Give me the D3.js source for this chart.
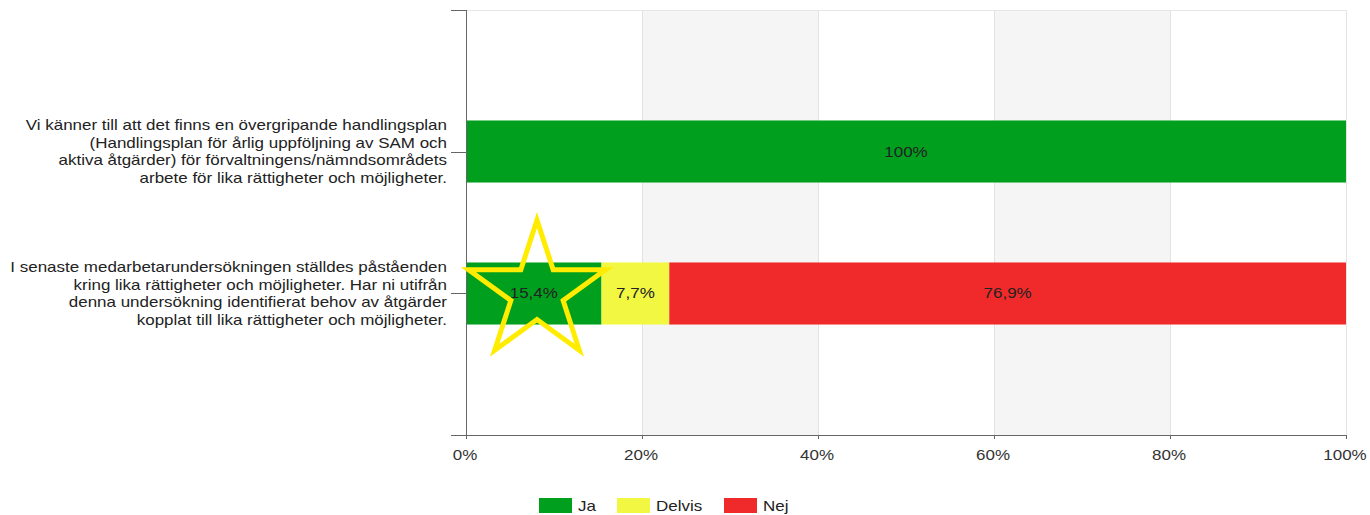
<!DOCTYPE html>
<html>
<head>
<meta charset="utf-8">
<script src="https://cdn.jsdelivr.net/npm/d3@7"></script>
<style>
  body { margin: 0; background: #fff; }
  svg text { font-family: "Liberation Sans", Arial, sans-serif; }
</style>
</head>
<body>
<svg id="chart" width="1370" height="515"></svg>
<script>
'use strict';

// data
const questions = [
  ["Vi känner till att det finns en övergripande handlingsplan",
   "(Handlingsplan för årlig uppföljning av SAM och",
   "aktiva åtgärder) för förvaltningens/nämndsområdets",
   "arbete för lika rättigheter och möjligheter."],
  ["I senaste medarbetarundersökningen ställdes påståenden",
   "kring lika rättigheter och möjligheter. Har ni utifrån",
   "denna undersökning identifierat behov av åtgärder",
   "kopplat till lika rättigheter och möjligheter."]
];
const answers = ["Ja", "Delvis", "Nej"];
const jaValues = [100, 15.4];
const delvisValues = [0, 7.7];
const nejValues = [0, 76.9];
const xTicks = [0, 20, 40, 60, 80, 100];
const colors = ["#00a01e", "#f2f742", "#f02a2a"];

const svg = d3.select("#chart");
const pLeft = 466, pRight = 1346, pTop = 10, pBottom = 435;
const stretch = 1.213; // the reference text is horizontally wider

// places a text at (px,py) stretched horizontally
function place(sel, px, py) {
  return sel.attr("transform", "translate(" + px + "," + py + ") scale(" + stretch + ",1)");
}

const x = d3.scaleLinear().domain([0, 100]).range([pLeft, pRight]);
const y = d3.scaleBand()
  .domain(d3.range(questions.length))
  .range([pTop, pBottom])
  .paddingInner(0.563)
  .paddingOuter(0.778);

// alternating bands
svg.selectAll("rect.band")
  .data([[20, 40], [60, 80]])
  .enter().append("rect")
    .attr("class", "band")
    .attr("x", d => x(d[0]))
    .attr("y", pTop)
    .attr("width", d => x(d[1]) - x(d[0]))
    .attr("height", pBottom - pTop)
    .style("fill", "#f5f5f5");

// grid lines
svg.selectAll("line.grid")
  .data(xTicks.slice(1))
  .enter().append("line")
    .attr("class", "grid")
    .attr("x1", d => x(d) + 0.5).attr("x2", d => x(d) + 0.5)
    .attr("y1", pTop).attr("y2", pBottom)
    .style("stroke", "#e3e3e3");

svg.append("line")
  .attr("x1", pLeft).attr("x2", pRight)
  .attr("y1", pTop + 0.5).attr("y2", pTop + 0.5)
  .style("stroke", "#e6e6e6");

// stacked bars
const series = d3.stack().keys([0, 1, 2])
  .value((d, k) => [jaValues, delvisValues, nejValues][k][d])(d3.range(questions.length));

const fmt = v => (Math.round(v * 10) / 10).toString().replace(".", ",") + "%";

series.forEach((s, k) => {
  const g = svg.append("g");
  g.selectAll("rect")
    .data(s.filter(d => d[1] - d[0] > 0))
    .enter().append("rect")
      .attr("x", d => x(d[0]))
      .attr("y", d => y(d.data))
      .attr("width", d => x(d[1]) - x(d[0]))
      .attr("height", y.bandwidth())
      .style("fill", colors[k]);
  g.selectAll("text")
    .data(s.filter(d => d[1] - d[0] > 0))
    .enter().append("text")
      .each(function(d) {
        place(d3.select(this), (x(d[0]) + x(d[1])) / 2, y(d.data) + y.bandwidth() / 2 + 5);
      })
      .attr("text-anchor", "middle")
      .style("font-size", "14px")
      .style("fill", "#222")
      .text(d => fmt(d[1] - d[0]));
});

// left axis
svg.append("line")
  .attr("x1", pLeft + 0.5).attr("x2", pLeft + 0.5)
  .attr("y1", pTop).attr("y2", pBottom + 4)
  .style("stroke", "#666");
const yTickPos = [pTop + 0.5].concat(d3.range(questions.length).map(i => Math.round(y(i) + y.bandwidth() / 2) + 0.5));
svg.selectAll("line.ytick")
  .data(yTickPos)
  .enter().append("line")
    .attr("x1", pLeft - 15).attr("x2", pLeft)
    .attr("y1", d => d).attr("y2", d => d)
    .style("stroke", "#666");

// category labels
questions.forEach((lines, i) => {
  const cy = y(i) + y.bandwidth() / 2;
  const t = place(svg.append("text"), 447, cy)
    .attr("text-anchor", "end")
    .style("font-size", "14px")
    .style("fill", "#222");
  lines.forEach((ln, j) => {
    t.append("tspan")
      .attr("x", 0)
      .attr("y", (j - 1.5) * 17.5 + 5)
      .text(ln);
  });
});

// bottom axis
svg.append("line")
  .attr("x1", pLeft - 15).attr("x2", pRight)
  .attr("y1", pBottom + 0.5).attr("y2", pBottom + 0.5)
  .style("stroke", "#666");
svg.selectAll("line.xtick")
  .data(xTicks)
  .enter().append("line")
    .attr("x1", d => x(d) + 0.5).attr("x2", d => x(d) + 0.5)
    .attr("y1", pBottom).attr("y2", pBottom + 4)
    .style("stroke", "#666");
svg.selectAll("text.xlab")
  .data(xTicks)
  .enter().append("text")
    .each(function(d) { place(d3.select(this), x(d) - 1, 460); })
    .attr("text-anchor", "middle")
    .style("font-size", "14px")
    .style("fill", "#333")
    .text(d => d + "%");

// legend
const legendX = [539, 617, 724];
answers.forEach((a, i) => {
  svg.append("rect")
    .attr("x", legendX[i]).attr("y", 498)
    .attr("width", 33).attr("height", 15)
    .style("fill", colors[i]);
  place(svg.append("text"), legendX[i] + 39, 511)
    .style("font-size", "14px")
    .style("fill", "#222")
    .text(a);
});

// yellow star annotation
const starPts = d3.range(10).map(i => [i * Math.PI / 5, i % 2 ? 27.5 : 72]);
svg.append("path")
  .attr("transform", "translate(537,292)")
  .attr("d", d3.lineRadial().curve(d3.curveLinearClosed)(starPts))
  .style("fill", "none")
  .style("stroke", "#ffec00")
  .style("stroke-width", 5)
  .style("stroke-linejoin", "miter");
</script>
</body>
</html>
